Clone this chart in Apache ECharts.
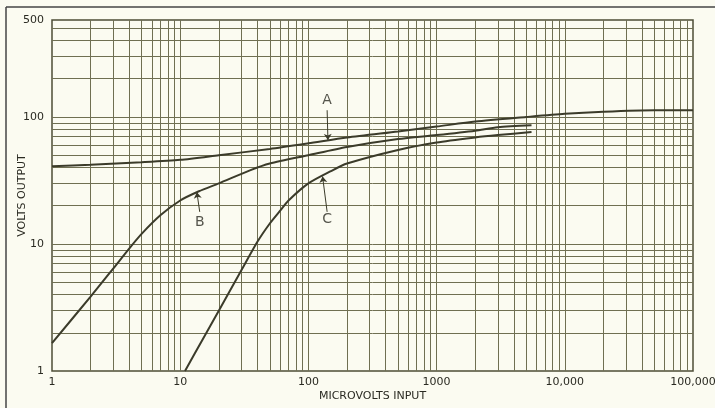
<!DOCTYPE html>
<html>
<head>
<meta charset="utf-8">
<script src="https://cdn.jsdelivr.net/npm/echarts@6/dist/echarts.min.js"></script>
<style>
html,body{margin:0;padding:0;background:#fbfbf1;}
#c{width:715px;height:408px;}
</style>
</head>
<body>
<div id="c"></div>
<script>
// ---- data ----
const aX = [1, 2, 5, 10, 20, 50, 100, 200, 500, 1000, 2000, 5000, 10000, 20000, 50000, 100000];
const aY = [41, 42, 44, 46, 50, 56, 62, 69, 77, 84, 92, 100, 106, 110, 113, 113];

const bX = [1, 2, 3, 4, 5, 7, 10, 14, 20, 35, 50, 100, 200, 500, 1000, 2000, 3000, 5500];
const bY = [1.66, 3.85, 6.4, 9.2, 12, 16.8, 22, 26, 30, 38, 43, 50, 58, 67, 72, 78, 83, 86];

const cX = [10.9, 15, 20, 30, 40, 50, 60, 70, 100, 150, 200, 500, 1000, 2000, 3000, 5500];
const cY = [1, 1.78, 2.98, 6.2, 10.4, 14.5, 18.2, 22, 30, 37.5, 43, 55, 63, 69, 72, 76];

const xGrid = [2,3,4,5,6,7,8,9,10,20,30,40,50,60,70,80,90,100,200,300,400,500,600,700,800,900,1000,
  2000,3000,4000,5000,6000,7000,8000,9000,10000,20000,30000,40000,50000,60000,70000,80000,90000];
const yGrid = [2,3,4,5,6,7,8,9,10,20,30,40,50,60,70,80,90,100,200,300,400,500];

const xTickValues = [1, 10, 100, 1000, 10000, 100000];
const xTickLabels = ['1', '10', '100', '1000', '10,000', '100,000'];
const yTickValues = [1, 10, 100, 580];
const yTickLabels = ['1', '10', '100', '500'];

const curveLabels = [
  {name: 'A', at: [140, 136], from: [140, 113], to: [142, 66]},
  {name: 'B', at: [14.2, 14.9], from: [14.2, 17.9], to: [13.5, 25.5]},
  {name: 'C', at: [140, 15.5], from: [140, 17.9], to: [129, 34]}
];

// ---- chart ----
const ink = '#3b3b2a';
const gridCol = '#6f6f52';
const pairs = (xs, ys) => xs.map((x, i) => [x, ys[i]]);
const labelFor = (vals, labs) => v => {
  for (let i = 0; i < vals.length; i++) {
    if (Math.abs(Math.log10(v) - Math.log10(vals[i])) < 0.01) return labs[i];
  }
  return '';
};

const gridLines = xGrid.map(v => ({xAxis: v})).concat(yGrid.map(v => ({yAxis: v})));

const curve = (name, xs, ys) => ({
  name, type: 'line', data: pairs(xs, ys), smooth: 0.25, symbol: 'none',
  lineStyle: {color: ink, width: 2}, z: 5, silent: true
});

const chart = echarts.init(document.getElementById('c'), null, {renderer: 'canvas'});
chart.setOption({
  backgroundColor: '#fbfbf1',
  animation: false,
  grid: {left: 52, right: 22, top: 20, bottom: 37, containLabel: false, outerBoundsMode: 'none',
    show: true, borderColor: '#4d4d36', borderWidth: 1.5, backgroundColor: 'transparent'},
  xAxis: {
    type: 'log', min: 1, max: 100000, logBase: 10,
    axisLine: {show: false}, axisTick: {show: false}, splitLine: {show: false},
    axisLabel: {formatter: labelFor(xTickValues, xTickLabels), color: '#2a2a22', fontSize: 11,
      fontFamily: 'DejaVu Sans', margin: 6, showMaxLabel: true, showMinLabel: true, hideOverlap: false},
    name: 'MICROVOLTS INPUT', nameLocation: 'middle', nameGap: 20, nameMoveOverlap: false,
    nameTextStyle: {color: '#2a2a22', fontSize: 11, fontFamily: 'DejaVu Sans'}
  },
  yAxis: {
    type: 'log', min: 1, max: 580, logBase: 10,
    axisLine: {show: false}, axisTick: {show: false}, splitLine: {show: false},
    axisLabel: {formatter: labelFor(yTickValues, yTickLabels), color: '#2a2a22', fontSize: 11,
      fontFamily: 'DejaVu Sans', margin: 8, showMaxLabel: true, showMinLabel: true},
    name: 'VOLTS OUTPUT', nameLocation: 'middle', nameGap: 24, nameRotate: 90, nameMoveOverlap: false,
    nameTextStyle: {color: '#2a2a22', fontSize: 11, fontFamily: 'DejaVu Sans'}
  },
  graphic: [
    {type: 'line', shape: {x1: 6, y1: 7, x2: 715, y2: 7}, style: {stroke: '#444', lineWidth: 1.5}},
    {type: 'line', shape: {x1: 6, y1: 7, x2: 6, y2: 408}, style: {stroke: '#444', lineWidth: 1.5}}
  ],
  series: [
    {
      type: 'line', data: [], silent: true,
      markLine: {silent: true, symbol: 'none', animation: false, label: {show: false},
        lineStyle: {color: gridCol, width: 1, type: 'solid'}, emphasis: {disabled: true},
        data: gridLines}
    },
    curve('A', aX, aY),
    curve('B', bX, bY),
    curve('C', cX, cY),
    {
      type: 'scatter', symbolSize: 0, silent: true, z: 6,
      data: curveLabels.map(c => ({value: c.at, name: c.name})),
      label: {show: true, formatter: '{b}', position: 'inside', color: '#2a2a22', fontSize: 14,
        fontFamily: 'DejaVu Sans'},
      markLine: {silent: true, animation: false, label: {show: false}, emphasis: {disabled: true},
        symbolSize: 6, lineStyle: {color: ink, width: 1, type: 'solid'},
        data: curveLabels.map(c => [{coord: c.from, symbol: 'none'}, {coord: c.to, symbol: 'arrow'}])}
    }
  ]
});
</script>
</body>
</html>
